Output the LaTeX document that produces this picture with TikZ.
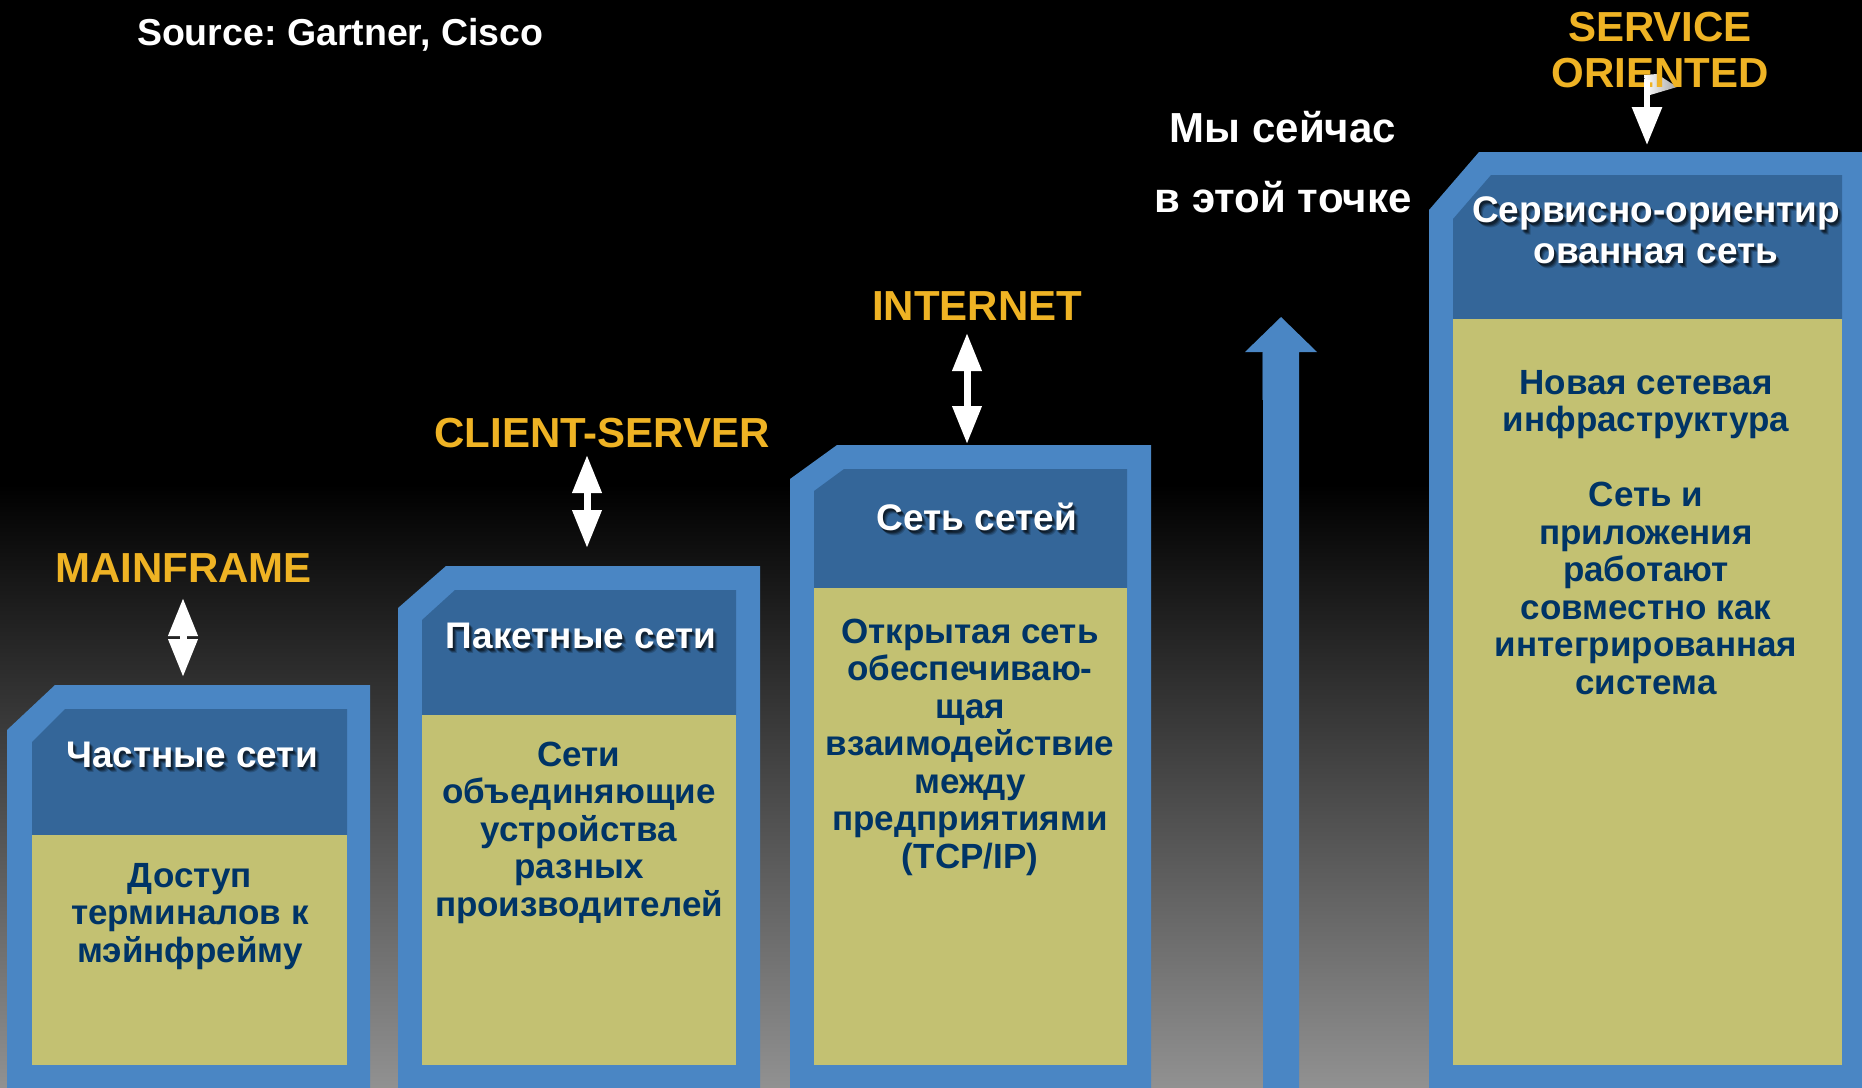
\documentclass[tikz,border=0pt]{standalone}
\usepackage{fontspec}
\setmainfont{Liberation Sans}
\usetikzlibrary{arrows.meta,calc}
\frenchspacing

\definecolor{frameblue}{HTML}{4A86C4}
\definecolor{headblue}{HTML}{346699}
\definecolor{panel}{HTML}{C3C172}
\definecolor{navy}{HTML}{003466}
\definecolor{amber}{HTML}{EFB324}
\definecolor{fog}{HTML}{919191}
\definecolor{seam}{HTML}{23405F}

% white header text with a soft dark drop shadow
% (multi-line nodes sit on the baseline of their last line)
\newcommand\shadowed[3]{% #1 = anchor point, #2 = node name, #3 = text
  \foreach \dx/\dy/\op [count=\k] in {4/5/0.18, 3/4/0.25, 2/3/0.35, 1/2/0.3}
    \node[headtxt, anchor=base, text=black, opacity=\op] (#2-s\k) at ($(#1)+(\dx,\dy)$) {#3};
  \node[headtxt, anchor=base] (#2) at (#1) {#3};
}

\begin{document}
\begin{tikzpicture}[x=1pt, y=-1pt,
  every node/.style={inner sep=0pt, outer sep=0pt},
  eralabel/.style={text=amber, font=\fontsize{42}{46}\selectfont\bfseries, align=center, anchor=base},
  remark/.style={text=white, font=\fontsize{42}{70}\selectfont\bfseries, align=center, anchor=base},
  headtxt/.style={text=white, font=\fontsize{37}{41}\selectfont\bfseries, align=center},
  bodytxt/.style={text=navy, font=\fontsize{35}{37.5}\selectfont\bfseries, align=center, anchor=base},
  outerframe/.style={fill=frameblue},
  headpanel/.style={fill=headblue},
  bodypanel/.style={fill=panel},
  linkarrow/.style={draw=white, fill=white, line width=7pt,
    {Triangle[length=38pt, width=28pt]}-{Triangle[length=38pt, width=28pt]}},
  downarrow/.style={draw=white, fill=white, line width=6pt,
    -{Triangle[length=38pt, width=29pt]}}
]
\useasboundingbox (0,0) rectangle (1862,1087);
\clip (0,0) rectangle (1862,1087);

% background: black fading to grey towards the bottom
\fill[black] (0,0) rectangle (1862,485);
\shade[top color=black, bottom color=fog] (0,484) rectangle (1862,1087);

% stage 1
\fill[outerframe] (7,1100) -- (7,730) -- (55,685) -- (370,685) -- (370,1100) -- cycle;
\fill[headpanel] (32,835) -- (32,742) -- (65,709) -- (347,709) -- (347,835) -- cycle;
\fill[bodypanel] (32,835) rectangle (347,1065);

% stage 2
\fill[outerframe] (398,1100) -- (398,608) -- (446,566) -- (760,566) -- (760,1100) -- cycle;
\fill[headpanel] (422,715) -- (422,620) -- (455,590) -- (736,590) -- (736,715) -- cycle;
\fill[bodypanel] (422,715) rectangle (736,1065);

% stage 3
\fill[outerframe] (790,1100) -- (790,479) -- (837,445) -- (1151,445) -- (1151,1100) -- cycle;
\fill[headpanel] (814,588) -- (814,491) -- (844,469) -- (1127,469) -- (1127,588) -- cycle;
\fill[bodypanel] (814,588) rectangle (1127,1065);

% stage 4
\fill[outerframe] (1429,1100) -- (1429,210) -- (1479,152) -- (1880,152) -- (1880,1100) -- cycle;
\fill[headpanel] (1453,319) -- (1453,219) -- (1491,175) -- (1842,175) -- (1842,319) -- cycle;
\fill[bodypanel] (1453,319) rectangle (1842,1065);

% big upward arrow
\fill[frameblue] (1263,1100) -- (1263,352) -- (1245,352) -- (1281,317) -- (1317,352) -- (1299,352) -- (1299,1100) -- cycle;
\draw[seam, line width=1pt] (1262.5,352) -- (1262.5,400);

% source line
\node[text=white, font=\fontsize{37.5}{40}\selectfont\bfseries, anchor=base west] (src) at (137,45) {Source: Gartner, Cisco};

% era labels
\node[eralabel] (mainframe) at (183.5,582) {MAINFRAME};
\node[eralabel] (clientserver) at (602,447) {CLIENT-SERVER};
\node[eralabel] (internet) at (977,320) {INTERNET};
\shade[left color=white, right color=gray!70] (1644,75) -- (1657,74) -- (1677,87) -- (1650,95) -- (1647,97) -- cycle;
\node[eralabel] (soa) at (1660,87) {SERVICE\\ORIENTED};

% note next to the arrow
\node[remark] (now) at (1283,212) {Мы сейчас\\в этой точке};

% connectors between era labels and stages
\coordinate (mfA) at (183,598);   \coordinate (mfB) at (183,677);
\coordinate (csA) at (587,455);   \coordinate (csB) at (587,548);
\coordinate (inA) at (967,333);   \coordinate (inB) at (967,444);
\coordinate (soA) at (1647,80);   \coordinate (soB) at (1647,145);
\draw[linkarrow] (mfA) -- (mfB);
\draw[linkarrow] (csA) -- (csB);
\draw[linkarrow] (inA) -- (inB);
\draw[downarrow] (soA) -- (soB);

% stage headers
\coordinate (h1) at (192,767);
\coordinate (h2) at (581,648);
\coordinate (h3) at (977,530);
\coordinate (h4) at (1656,263);
\shadowed{h1}{head1}{Частные сети}
\shadowed{h2}{head2}{Пакетные сети}
\shadowed{h3}{head3}{Сеть сетей}
\shadowed{h4}{head4}{Сервисно-ориентир\\ованная сеть}

% stage descriptions
\node[bodytxt] (body1) at (190,962) {Доступ\\терминалов к\\мэйнфрейму};
\node[bodytxt] (body2) at (579,916) {Сети\\объединяющие\\устройства\\разных\\производителей};
\node[bodytxt] (body3) at (970,868) {Открытая сеть\\обеспечиваю-\\щая\\взаимодействие\\между\\предприятиями\\(TCP/IP)};
\node[bodytxt] (body4) at (1646,694) {Новая сетевая\\инфраструктура\\[37.5pt]Сеть и\\приложения\\работают\\совместно как\\интегрированная\\система};
\end{tikzpicture}
\end{document}
